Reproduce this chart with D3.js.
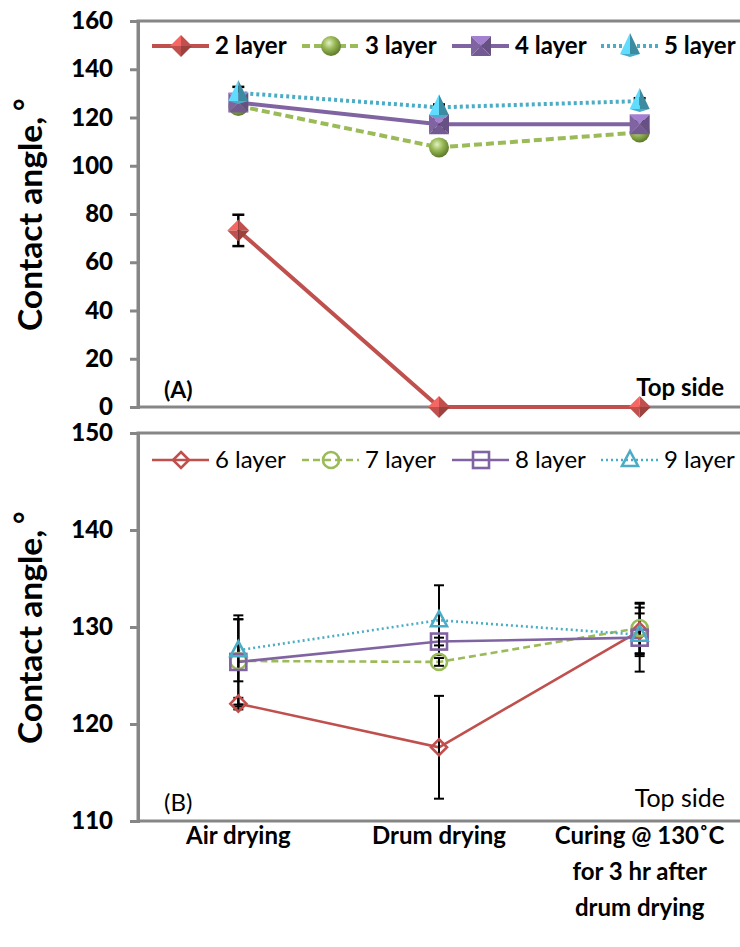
<!DOCTYPE html>
<html>
<head>
<meta charset="utf-8">
<script src="https://cdn.jsdelivr.net/npm/d3@7"></script>
<style>
  html, body { margin: 0; padding: 0; background: #fff; }
  svg { display: block; font-family: Lato, "Open Sans", sans-serif; }
</style>
</head>
<body>
<svg id="chart" width="740" height="947"></svg>
<script>
// Treatment steps along the x axis (shared by both panels)
const categories = ["Air drying", "Drum drying", "Curing"];
const categoryLabels = [["Air drying"], ["Drum drying"], ["Curing @ 130˚C", "for 3 hr after", "drum drying"]];

// Panel (A): 2–5 layers
const seriesA = ["2 layer", "3 layer", "4 layer", "5 layer"];
const valuesA2 = [73.2, 0, 0];
const valuesA3 = [124.8, 107.6, 113.8];
const valuesA4 = [126.2, 117.2, 117.2];
const valuesA5 = [130.2, 124.2, 126.8];
const errorsA2 = [6.5, 0, 0];
const errorsA3 = [1.0, 1.2, 1.0];
const errorsA4 = [1.2, 2.2, 1.2];
const errorsA5 = [2.5, 1.2, 1.2];
const ticksA = [0, 20, 40, 60, 80, 100, 120, 140, 160];

// Panel (B): 6–9 layers
const seriesB = ["6 layer", "7 layer", "8 layer", "9 layer"];
const valuesB6 = [122.1, 117.6, 129.6];
const valuesB7 = [126.5, 126.4, 129.9];
const valuesB8 = [126.4, 128.5, 128.9];
const valuesB9 = [127.6, 130.7, 129.2];
const errorsB6 = [0.6, 5.3, 2.4];
const errorsB7 = [4.7, 0.4, 2.6];
const errorsB8 = [4.4, 0.4, 3.5];
const errorsB9 = [3.2, 3.6, 2.2];
const ticksB = [110, 120, 130, 140, 150];

const valuesA = [valuesA2, valuesA3, valuesA4, valuesA5];
const errorsA = [errorsA2, errorsA3, errorsA4, errorsA5];
const valuesB = [valuesB6, valuesB7, valuesB8, valuesB9];
const errorsB = [errorsB6, errorsB7, errorsB8, errorsB9];

const colors = ["#C0504D", "#9BBB59", "#8064A2", "#4BACC6"];
const shapes = ["diamond", "circle", "square", "triangle"];
const axisGray = "#868686";

const svg = d3.select("#chart");
const defs = svg.append("defs");

// glossy ball gradient for the 3-D circle markers
const g3 = defs.append("radialGradient").attr("id", "ballGreen")
  .attr("cx", "40%").attr("cy", "35%").attr("r", "65%");
g3.append("stop").attr("offset", "0%").attr("stop-color", "#E3F0C2");
g3.append("stop").attr("offset", "45%").attr("stop-color", "#9BBB59");
g3.append("stop").attr("offset", "100%").attr("stop-color", "#5E7A2A");

const x = d3.scaleBand().domain(categories).range([138, 740]);
const cx = c => x(c) + x.bandwidth() / 2;

const yA = d3.scaleLinear().domain([0, 160]).range([407, 21]);
const yB = d3.scaleLinear().domain([110, 150]).range([821, 433]);

// ---------- marker drawing ----------
function marker3D(g, shape, px, py, color) {
  const m = g.append("g").attr("transform", `translate(${px},${py})`);
  const c = d3.color(color);
  const light = c.brighter(0.7).formatHex(), dark = c.darker(0.6).formatHex(), mid = color;
  if (shape === "diamond") {
    const r = 11;
    m.append("path").attr("d", `M0,0L0,${-r}L${-r},0Z`).attr("fill", light);
    m.append("path").attr("d", `M0,0L0,${-r}L${r},0Z`).attr("fill", mid);
    m.append("path").attr("d", `M0,0L${-r},0L0,${r}Z`).attr("fill", mid);
    m.append("path").attr("d", `M0,0L${r},0L0,${r}Z`).attr("fill", dark);
  } else if (shape === "square") {
    const h = 10;
    m.append("path").attr("d", `M0,0L${-h},${-h}L${h},${-h}Z`).attr("fill", light);
    m.append("path").attr("d", `M0,0L${-h},${-h}L${-h},${h}Z`).attr("fill", mid);
    m.append("path").attr("d", `M0,0L${h},${-h}L${h},${h}Z`).attr("fill", dark);
    m.append("path").attr("d", `M0,0L${-h},${h}L${h},${h}Z`).attr("fill", c.darker(0.3).formatHex());
  } else if (shape === "circle") {
    m.append("circle").attr("r", 10).attr("fill", "url(#ballGreen)");
  } else if (shape === "triangle") {
    m.append("path").attr("d", `M0,-13L-10,8L0,8Z`).attr("fill", light);
    m.append("path").attr("d", `M0,-13L10,8L0,8Z`).attr("fill", dark);
    m.append("path").attr("d", `M-10,8L10,8L0,11Z`).attr("fill", mid);
  }
}

function markerHollow(g, shape, px, py, color) {
  const m = g.append("g").attr("transform", `translate(${px},${py})`)
    .attr("fill", "none").attr("stroke", color).attr("stroke-width", 2.6);
  if (shape === "diamond") m.append("path").attr("d", "M0,-8L8,0L0,8L-8,0Z");
  else if (shape === "square") m.append("rect").attr("x", -8).attr("y", -8).attr("width", 16).attr("height", 16);
  else if (shape === "circle") m.append("circle").attr("r", 8);
  else if (shape === "triangle") m.append("path").attr("d", "M0,-9L8,6L-8,6Z");
}

const dashA = [null, "8,4", null, "3,3"];
const dashB = [null, "7,4", null, "2,3"];

// ---------- panel frame + y axis ----------
function drawFrame(y, ticks, yTop, yBot) {
  svg.append("rect").attr("x", 138).attr("y", yTop).attr("width", 610).attr("height", yBot - yTop)
    .attr("fill", "none").attr("stroke", axisGray).attr("stroke-width", 3);
  const ax = svg.append("g").attr("transform", "translate(138,0)")
    .call(d3.axisLeft(y).tickValues(ticks).tickSize(8).tickPadding(17).tickFormat(d3.format("d")));
  ax.select(".domain").attr("stroke", axisGray).attr("stroke-width", 3);
  ax.selectAll(".tick line").attr("stroke", axisGray).attr("stroke-width", 3);
  ax.selectAll(".tick text").attr("fill", "#000").attr("font-size", 24).attr("font-weight", 900)
    .attr("font-family", "Lato, sans-serif");
}

function drawPanel(y, values, errors, lw, dashes, is3D, capW, errW) {
  const line = d3.line().x((d, i) => cx(categories[i])).y(d => y(d));
  values.forEach((vals, s) => {
    svg.append("path").datum(vals).attr("d", line)
      .attr("fill", "none").attr("stroke", colors[s]).attr("stroke-width", lw)
      .attr("stroke-dasharray", dashes[s]);
  });
  // error bars
  values.forEach((vals, s) => {
    vals.forEach((v, i) => {
      const e = errors[s][i];
      if (!e) return;
      const px = cx(categories[i]);
      const g = svg.append("g").attr("stroke", "#000").attr("stroke-width", errW);
      g.append("line").attr("x1", px).attr("x2", px).attr("y1", y(v + e)).attr("y2", y(v - e));
      g.append("line").attr("x1", px - capW).attr("x2", px + capW).attr("y1", y(v + e)).attr("y2", y(v + e));
      g.append("line").attr("x1", px - capW).attr("x2", px + capW).attr("y1", y(v - e)).attr("y2", y(v - e));
    });
  });
  values.forEach((vals, s) => {
    const g = svg.append("g");
    vals.forEach((v, i) => {
      (is3D ? marker3D : markerHollow)(g, shapes[s], cx(categories[i]), y(v), colors[s]);
    });
  });
}

function drawLegend(names, yPos, lw, dashes, is3D, bold) {
  const starts = [152, 302, 452, 601];
  names.forEach((n, s) => {
    const x0 = starts[s];
    svg.append("line").attr("x1", x0).attr("x2", x0 + 57).attr("y1", yPos).attr("y2", yPos)
      .attr("stroke", colors[s]).attr("stroke-width", lw).attr("stroke-dasharray", dashes[s]);
    (is3D ? marker3D : markerHollow)(svg.append("g"), shapes[s], x0 + 29, yPos, colors[s]);
    svg.append("text").attr("x", x0 + 63).attr("y", yPos + 8).text(n)
      .attr("font-size", 24).attr("font-weight", bold ? "bold" : "normal").attr("fill", "#000");
  });
}

function yTitle(yStart) {
  const t = svg.append("text").attr("transform", `translate(42,${yStart}) rotate(-90)`)
    .attr("font-size", 33).attr("font-weight", "bold").attr("fill", "#000");
  t.append("tspan").attr("textLength", 214).attr("lengthAdjust", "spacingAndGlyphs").text("Contact angle,");
  t.append("tspan").attr("dx", 6).attr("dy", -6).attr("font-size", 30).text("°");
}

// Panel A
drawFrame(yA, ticksA, 21, 407);
drawPanel(yA, valuesA, errorsA, 4, dashA, true, 6, 2.5);
drawLegend(seriesA, 46, 4, dashA, true, true);
yTitle(331);
svg.append("text").attr("x", 164).attr("y", 398).text("(A)").attr("font-size", 23).attr("font-weight", "bold");
svg.append("text").attr("x", 724).attr("y", 396).attr("text-anchor", "end").text("Top side")
  .attr("font-size", 24).attr("font-weight", "bold");

// Panel B
drawFrame(yB, ticksB, 433, 821);
drawPanel(yB, valuesB, errorsB, 2.6, dashB, false, 5, 2);
drawLegend(seriesB, 460, 2.6, dashB, false, false);
yTitle(744);
svg.append("text").attr("x", 164).attr("y", 811).text("(B)").attr("font-size", 24);
svg.append("text").attr("x", 725).attr("y", 807).attr("text-anchor", "end").text("Top side").attr("font-size", 25);

// category labels under panel B
categoryLabels.forEach((lines, i) => {
  const t = svg.append("text").attr("text-anchor", "middle").attr("font-size", 24)
    .attr("font-weight", "bold").attr("fill", "#000");
  lines.forEach((ln, k) => {
    t.append("tspan").attr("x", cx(categories[i])).attr("y", 844 + k * 36).text(ln);
  });
});
</script>
</body>
</html>
